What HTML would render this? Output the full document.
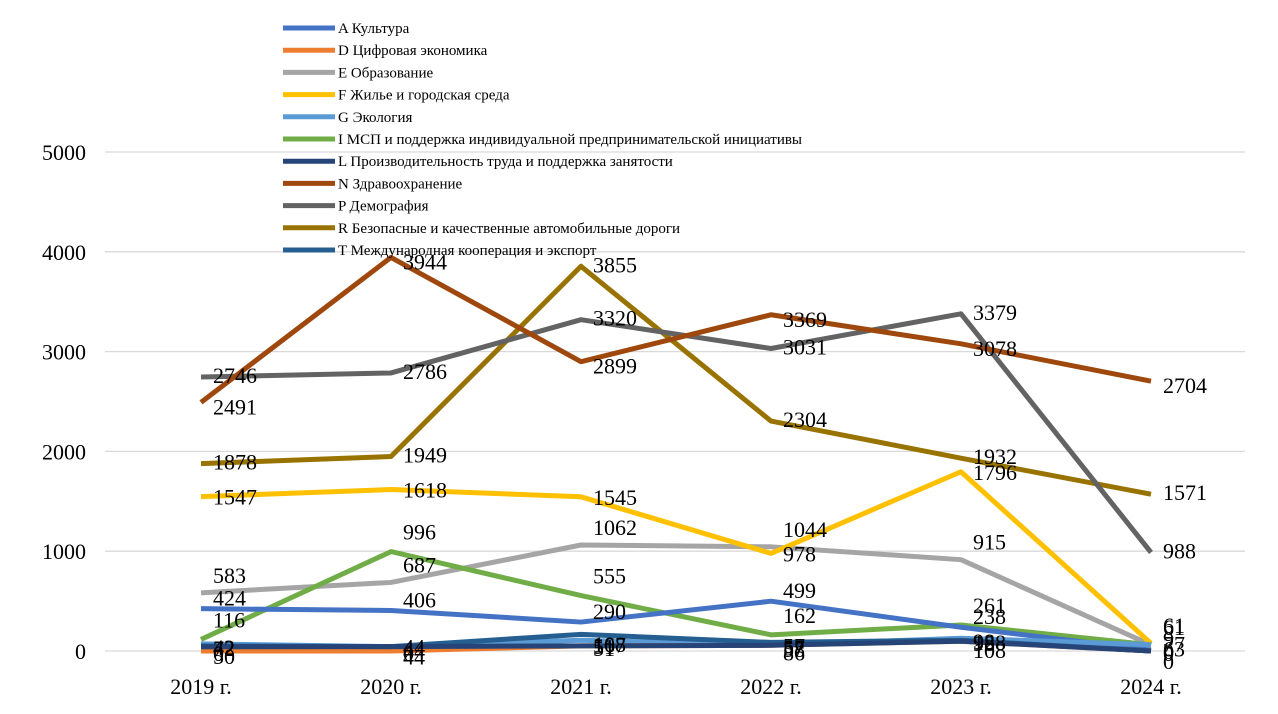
<!DOCTYPE html>
<html><head><meta charset="utf-8"><style>
body{margin:0;background:#fff}
svg text{font-family:"Liberation Serif",serif}
</style></head><body>
<svg id="chart" width="1278" height="709" xmlns="http://www.w3.org/2000/svg"></svg>
<script>
const categories=["2019 г.","2020 г.","2021 г.","2022 г.","2023 г.","2024 г."];
const yTicks=[0,1000,2000,3000,4000,5000];
const seriesNames=["A Культура","D Цифровая экономика","E Образование","F Жилье и городская среда","G Экология","I МСП и поддержка индивидуальной предпринимательской инициативы","L Производительность труда и поддержка занятости","N Здравоохранение","P Демография","R Безопасные и качественные автомобильные дороги","T Международная кооперация и экспорт"];
const sA=[424,406,290,499,238,9];
const sD=[0,0,51,57,98,0];
const sE=[583,687,1062,1044,915,61];
const sF=[1547,1618,1545,978,1796,77];
const sG=[72,44,108,58,128,63];
const sI=[116,996,555,162,261,61];
const sL=[42,44,51,57,98,0];
const sN=[2491,3944,2899,3369,3078,2704];
const sP=[2746,2786,3320,3031,3379,988];
const sR=[1878,1949,3855,2304,1932,1571];
const sT=[50,44,167,86,108,0];
const seriesValues=[sA,sD,sE,sF,sG,sI,sL,sN,sP,sR,sT];
const colors=["#4472C4","#ED7D31","#A5A5A5","#FFC000","#5B9BD5","#70AD47","#264478","#9E480E","#636363","#997300","#255E91"];
const keys=["a","d","e","f","g","i","l","n","p","r","t"];
const NS="http://www.w3.org/2000/svg";
const svg=document.getElementById('chart');
const x=i=>201+i*190;
const y=v=>651-v*0.0998;
function mk(t,a){const e=document.createElementNS(NS,t);for(const k in a)e.setAttribute(k,a[k]);svg.appendChild(e);return e;}
yTicks.forEach(t=>{
  const g=mk('line',{x1:105,x2:1245,y1:y(t),y2:y(t),stroke:'#d9d9d9','stroke-width':1.3});
  
  
  const l=mk('text',{x:86,y:y(t)+8,'text-anchor':'end','font-size':22,fill:'#000'});
  l.textContent=t;
  
  
});
categories.forEach((c,i)=>{
  const l=mk('text',{x:x(i),y:694,'text-anchor':'middle','font-size':22,fill:'#000'});
  l.textContent=c;
  
  
});
const order=[2,3,9,8,7,5,0,4,1,10,6];
order.forEach(s=>{
  const vals=seriesValues[s];
  const p=mk('polyline',{points:vals.map((v,i)=>x(i)+','+y(v)).join(' '),fill:'none',stroke:colors[s],'stroke-width':5,'stroke-linejoin':'round'});
  
  
});
const dys=[-3,10,-10,8,12,-12,8,12,6,6,18];
order.forEach(s=>{
  seriesValues[s].forEach((v,i)=>{
    const t=mk('text',{x:x(i)+12,y:y(v)+dys[s],'font-size':22,fill:'#000'});
    t.textContent=v;
    
    
  });
});
seriesNames.forEach((n,s)=>{
  const yy=28+s*22.2;
  const l=mk('line',{x1:283,x2:335,y1:yy,y2:yy,stroke:colors[s],'stroke-width':5});
  
  
  const t=mk('text',{x:338,y:yy+5,'font-size':15,fill:'#000'});
  t.textContent=n;
  
  
});
</script>
</body></html>
